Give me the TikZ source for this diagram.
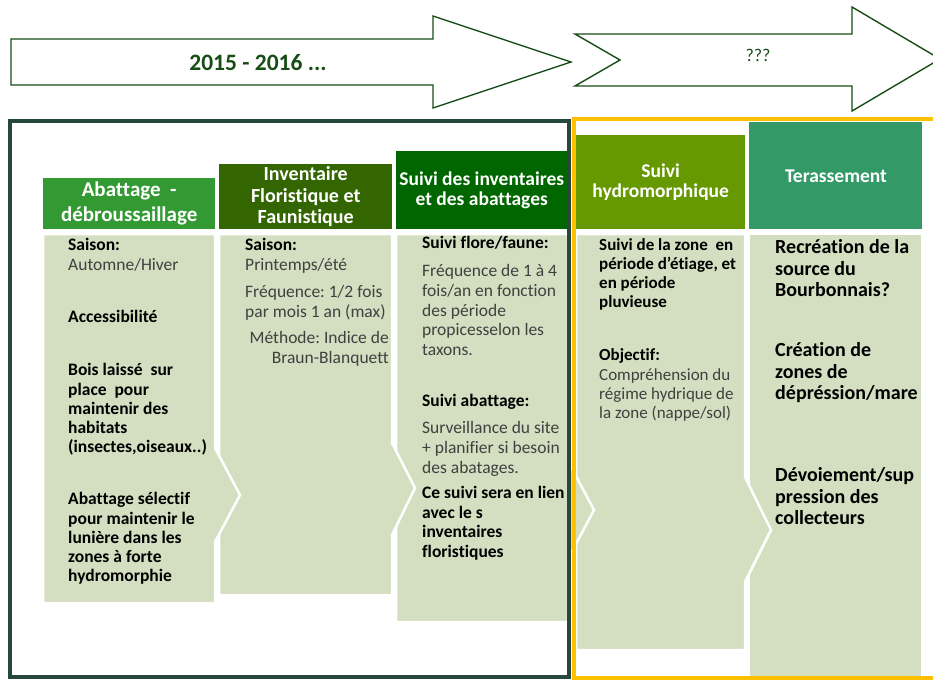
\documentclass[tikz,border=0pt]{standalone}
\usepackage{fontspec}
\setmainfont{Carlito}[Ligatures=NoCommon]
\usepackage{tikz}
\frenchspacing

\definecolor{arrowgreen}{RGB}{22,78,22}
\definecolor{framedark}{RGB}{38,72,60}
\definecolor{frameyellow}{RGB}{255,192,0}
\definecolor{bodyfill}{RGB}{212,222,192}
\definecolor{headA}{RGB}{51,153,51}
\definecolor{headB}{RGB}{51,102,0}
\definecolor{headC}{RGB}{0,102,0}
\definecolor{headD}{RGB}{102,153,0}
\definecolor{headE}{RGB}{51,153,102}

\tikzset{
  timearrow/.style={draw=arrowgreen, line width=1.4pt, fill=white, line join=miter},
  bodyshape/.style={fill=bodyfill, draw=white, line width=2.5pt, line join=miter},
  headbox/.style={fill=#1, anchor=north west, inner sep=0pt, align=center, text=white,
    font=\fontsize{19.5}{20.5}\selectfont\bfseries},
  bodytext/.style={anchor=north west, inner sep=0pt, align=left, text=black!75,
    font=\fontsize{17.5}{19.3}\selectfont},
  bigtext/.style={anchor=north west, inner sep=0pt, align=left, text=black,
    font=\fontsize{20}{21.7}\selectfont\bfseries},
}

\begin{document}
\begin{tikzpicture}[x=1pt,y=-1pt]
\useasboundingbox (0,0) rectangle (933,680);

% time arrows
\draw[timearrow] (11,39) -- (433,39) -- (433,16) -- (571,62) -- (433,108) -- (433,85) -- (11,85) -- cycle;
\draw[timearrow] (575,34) -- (852,34) -- (852,7) -- (940,59) -- (852,111) -- (852,86) -- (575,86) -- (620,60) -- cycle;
\node[text=arrowgreen, font=\fontsize{23.5}{25}\selectfont\bfseries] (years) at (258,63) {2015 - 2016 ...};
\node[text=arrowgreen, font=\fontsize{18}{20}\selectfont] (later) at (758,55) {???};

% bodies, last one first so each chevron lies on the next column
\draw[bodyshape] (749,234) -- (922,234) -- (922,678) -- (749,678) -- cycle;
\draw[bodyshape] (576,234) -- (745,234) -- (745,477) -- (771,530) -- (745,582) -- (745,650) -- (576,650) -- cycle;
\draw[bodyshape] (396,234) -- (568,234) -- (568,461) -- (594,510) -- (568,559) -- (568,622) -- (396,622) -- cycle;
\draw[bodyshape] (219,234) -- (392,234) -- (392,443) -- (415,488) -- (392,535) -- (392,595) -- (219,595) -- cycle;
\draw[bodyshape] (43,234) -- (215,234) -- (215,448) -- (240,495) -- (215,542) -- (215,603) -- (43,603) -- cycle;

% headers
\node[headbox=headA, minimum width=172pt, minimum height=51pt, font=\fontsize{21}{25}\selectfont\bfseries] (abattage) at (43,178) {Abattage~ -\\débroussaillage};
\node[headbox=headB, minimum width=173pt, minimum height=65pt, font=\fontsize{20}{21.7}\selectfont\bfseries] (inventaire) at (219,164) {Inventaire\\Floristique et\\Faunistique};
\node[headbox=headC, minimum width=171pt, minimum height=78pt] (suivi) at (396,151) {Suivi des inventaires\\et des abattages};
\node[headbox=headD, minimum width=169pt, minimum height=94pt] (hydro) at (576,135) {Suivi\\hydromorphique};
\node[headbox=headE, minimum width=173pt, minimum height=107pt] (terass) at (749,122) {};
\node[text=white, font=\fontsize{19.5}{20.5}\selectfont\bfseries] (terasstxt) at (836,176) {Terassement};

% column 1
\node[bodytext] (saisonA) at (68,237) {\strut\textbf{\color{black}Saison:}\\Automne/Hiver};
\node[bodytext, text=black, font=\fontsize{17.5}{19.3}\selectfont\bfseries] (acces) at (68,309) {\strut Accessibilité};
\node[bodytext, text=black, font=\fontsize{17.5}{19.3}\selectfont\bfseries] (bois) at (68,362) {\strut Bois laissé~ sur\\place~ pour\\maintenir des\\habitats\\(insectes,oiseaux..)};
\node[bodytext, text=black, font=\fontsize{17.5}{19.3}\selectfont\bfseries] (selectif) at (68,491) {\strut Abattage sélectif\\pour maintenir le\\lunière dans les\\zones à forte\\hydromorphie};

% column 2
\node[bodytext] (saisonB) at (245,237) {\strut\textbf{\color{black}Saison:}\\Printemps/été};
\node[bodytext] (freqB) at (245,284) {\strut Fréquence: 1/2 fois\\par mois 1 an (max)};
\node[bodytext, anchor=north east, align=right] (methode) at (389,330) {\strut Méthode: Indice de\\Braun-Blanquett};

% column 3
\node[bodytext, text=black, font=\fontsize{17.5}{19.3}\selectfont\bfseries] (flore) at (422,235) {\strut Suivi flore/faune:};
\node[bodytext, font=\fontsize{17.5}{19.6}\selectfont] (freqC) at (422,263) {\strut Fréquence de 1 à 4\\fois/an en fonction\\des période\\propicesselon les\\taxons.};
\node[bodytext, text=black, font=\fontsize{17.5}{19.3}\selectfont\bfseries] (suiviab) at (422,393) {\strut Suivi abattage:};
\node[bodytext, font=\fontsize{17.5}{19.6}\selectfont] (surv) at (422,420) {\strut Surveillance du site\\+ planifier si besoin\\des abatages.};
\node[bodytext, text=black, font=\fontsize{17.5}{19.5}\selectfont\bfseries] (lien) at (422,485) {\strut Ce suivi sera en lien\\avec le s\\inventaires\\floristiques};

% column 4
\node[bodytext, text=black, font=\fontsize{17}{19}\selectfont\bfseries] (zone) at (599,237) {\strut Suivi de la zone~ en\\période d'étiage, et\\en période\\pluvieuse};
\node[bodytext, font=\fontsize{17}{19.4}\selectfont] (objectif) at (599,347) {\strut\textbf{\color{black}Objectif:}\\Compréhension du\\régime hydrique de\\la zone (nappe/sol)};

% column 5
\node[bigtext] (source) at (775,238) {\strut Recréation de la\\source du\\Bourbonnais?};
\node[bigtext] (mare) at (775,341) {\strut Création de\\zones de\\dépréssion/mare};
\node[bigtext] (collect) at (775,466) {\strut Dévoiement/sup\\pression des\\collecteurs};

% frames
\draw[framedark, line width=3.5pt] (10,121) rectangle (569,677);
\draw[frameyellow, line width=3.5pt] (574,119) rectangle (936,678);

\end{tikzpicture}
\end{document}
